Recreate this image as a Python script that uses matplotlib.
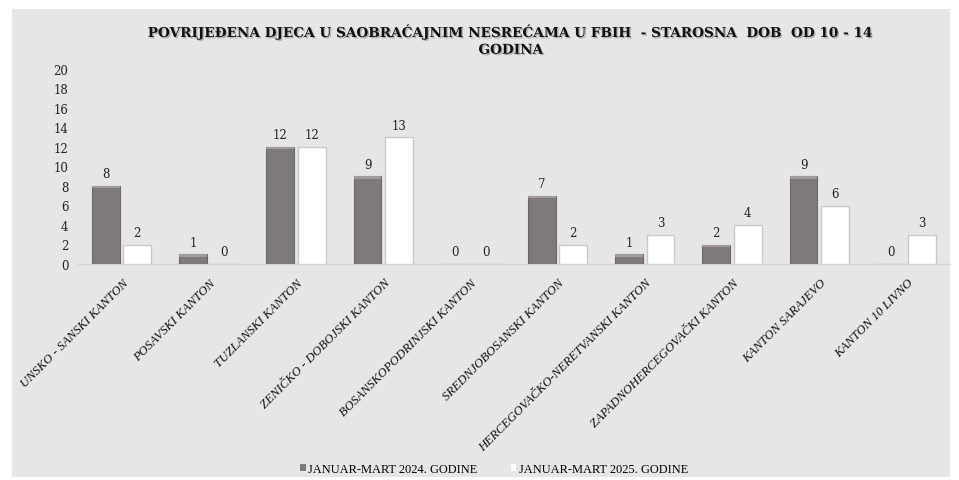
import matplotlib
matplotlib.use("Agg")
import matplotlib.pyplot as plt
import matplotlib.patheffects as pe
from matplotlib.patches import Rectangle
import matplotlib.transforms as mtransforms
import numpy as np

categories = ["UNSKO - SANSKI KANTON", "POSAVSKI KANTON", "TUZLANSKI KANTON",
              "ZENIČKO - DOBOJSKI KANTON", "BOSANSKOPODRINJSKI KANTON",
              "SREDNJOBOSANSKI KANTON", "HERCEGOVAČKO-NERETVANSKI KANTON",
              "ZAPADNOHERCEGOVAČKI KANTON", "KANTON SARAJEVO", "KANTON 10 LIVNO"]
values_2024 = [8, 1, 12, 9, 0, 7, 1, 2, 9, 0]
values_2025 = [2, 0, 12, 13, 0, 2, 3, 4, 6, 3]
series_names = ["JANUAR-MART 2024. GODINE", "JANUAR-MART 2025. GODINE"]
yticks = [0, 2, 4, 6, 8, 10, 12, 14, 16, 18, 20]
title = "POVRIJEĐENA DJECA U SAOBRAĆAJNIM NESREĆAMA U FBIH  - STAROSNA  DOB  OD 10 - 14\nGODINA"

W, H = 959, 481
fig = plt.figure(figsize=(W / 100, H / 100), dpi=100)
fig.patch.set_facecolor("white")
bg = Rectangle((12 / W, 1 - 478 / H), (950 - 12) / W, (478 - 10) / H,
               transform=fig.transFigure, facecolor="#e6e6e6", edgecolor="none", zorder=-10)
fig.patches.append(bg)

ax = fig.add_axes([78 / W, 1 - 265 / H, (950 - 78) / W, (265 - 70) / H])
ax.set_facecolor("none")
ax.set_zorder(1)

x = np.arange(len(categories))
bw = 0.32
off = 0.18
gray = "#7f7a79"
b1 = ax.bar(x - off, values_2024, bw, color=gray, edgecolor="#6c6868", linewidth=0.8, zorder=3)
b2 = ax.bar(x + off, values_2025, bw, color="white", edgecolor="#c9c9c9", linewidth=1.0, zorder=3)

# lighter top band to mimic bevel
for rect in b1:
    h = rect.get_height()
    if h > 0:
        ax.add_patch(Rectangle((rect.get_x(), h - 0.25), rect.get_width(), 0.25,
                               facecolor="#a09b9a", edgecolor="none", zorder=4))

for rects in (b1, b2):
    for rect in rects:
        h = rect.get_height()
        ax.annotate(f"{int(h)}", (rect.get_x() + rect.get_width() / 2, h),
                    xytext=(0, 4), textcoords="offset points", ha="center", va="bottom",
                    fontsize=8.5, family="DejaVu Serif", color="#222222")

ax.set_xlim(-0.5, len(categories) - 0.5)
ax.set_ylim(0, 20)
ax.set_yticks(yticks)
ax.set_yticklabels([str(t) for t in yticks], family="DejaVu Serif", fontsize=8.5, color="#222222")
ax.tick_params(axis="y", length=0, pad=7)
ax.set_xticks(x)
ax.set_xticklabels(categories, rotation=45, ha="right", va="top", rotation_mode="default",
                   family="Liberation Serif", style="italic", fontsize=9.2, color="#111111")
ax.tick_params(axis="x", length=0, pad=9)
shift = mtransforms.ScaledTranslation(9 / 100, 0, fig.dpi_scale_trans)
for lab in ax.get_xticklabels():
    lab.set_transform(lab.get_transform() + shift)
for s in ["top", "right", "left"]:
    ax.spines[s].set_visible(False)
ax.spines["bottom"].set_color("#d4d4d4")
ax.spines["bottom"].set_linewidth(1)

fig.text(511 / W, 1 - 24 / H, title, ha="center", va="top", fontsize=9.8,
         family="DejaVu Serif", weight="bold", color="#111111", linespacing=1.25,
         path_effects=[pe.SimplePatchShadow(offset=(1, -1), shadow_rgbFace="#888888", alpha=0.6),
                       pe.Normal()])

handles = [Rectangle((0, 0), 1, 1, facecolor=gray, edgecolor="none"),
           Rectangle((0, 0), 1, 1, facecolor="white", edgecolor="none")]
fig.legend(handles, series_names, loc="center", bbox_to_anchor=(494 / W, 1 - 470 / H),
           ncol=2, frameon=False, handlelength=0.45, handleheight=0.45, handletextpad=0.2,
           columnspacing=2.7, prop={"family": "Liberation Serif", "size": 8.9})

fig.savefig("out.png", dpi=100, facecolor="white")
